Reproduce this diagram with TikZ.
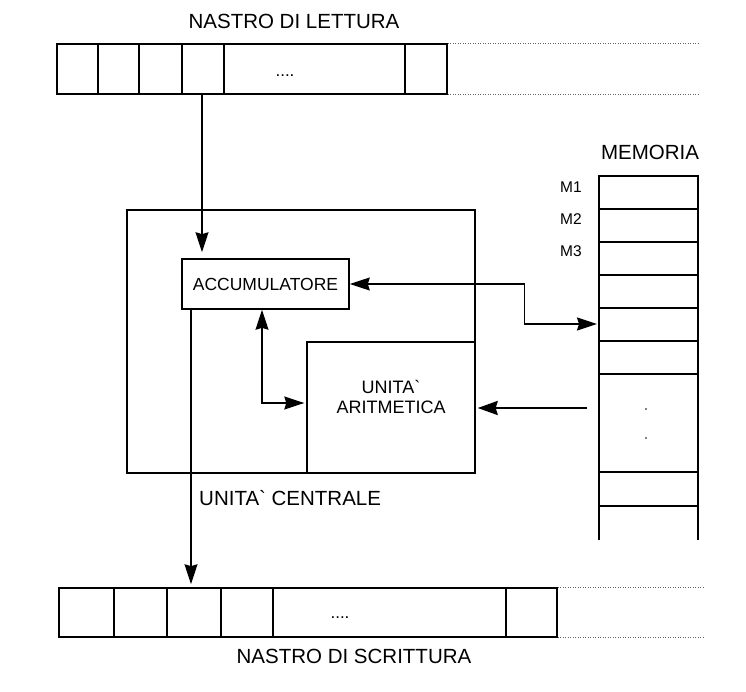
\documentclass[tikz,border=0pt]{standalone}
\usepackage{fontspec}
\setmainfont{Liberation Sans}
\usetikzlibrary{arrows.meta}
\begin{document}
\begin{tikzpicture}[x=1pt,y=-1pt,
  boxline/.style={draw,line width=1.6pt,inner sep=0pt},
  tapebox/.style={boxline,minimum height=50pt},
  conn/.style={line width=1.3pt},
  tip/.style={-{Stealth[length=20pt,width=13pt,inset=2pt]}},
  dtip/.style={{Stealth[length=20pt,width=13pt,inset=2pt]}-{Stealth[length=20pt,width=13pt,inset=2pt]}},
  btip/.style={line width=2.4pt,-{Stealth[length=20pt,width=14pt,inset=2pt]}},
  dotline/.style={dash pattern=on 0.9pt off 1.6pt,line width=0.9pt,gray!80!black},
  biglabel/.style={font=\fontsize{20.5}{24}\selectfont,inner sep=0pt},
  inlabel/.style={font=\fontsize{17.5}{20}\selectfont,inner sep=0pt},
  mlabel/.style={font=\fontsize{15.5}{18}\selectfont,inner sep=0pt},
  dotstext/.style={font=\fontsize{17}{20}\selectfont,inner sep=0pt}
]
\useasboundingbox[fill=white] (0,0) rectangle (746,692);

% reading tape
\node[tapebox,minimum width=390pt] (tapeR) at (252,69) {};
\foreach \x in {98,139,182,224,405}
  \draw[line width=1.6pt] (\x,44) -- (\x,94);
\node[dotstext] (dotsR) at (285,76) {....};
\draw[dotline] (tapeR.north east) -- ++(252,0) coordinate (rEndN);
\draw[dotline] (tapeR.south east) -- ++(252,0) coordinate (rEndS);
\node[biglabel] (lblR) at (294,21) {NASTRO DI LETTURA};

% central unit
\node[draw,line width=1.4pt,minimum width=348pt,minimum height=263pt,inner sep=0pt] (cu) at (301,341.5) {};
\node[boxline,minimum width=167pt,minimum height=50pt] (acc) at (265.5,284) {};
\node[inlabel] (acctext) at (acc) {ACCUMULATORE};
\node[draw,line width=1.4pt,minimum width=168pt,minimum height=131pt,inner sep=0pt] (alu) at (391,407.5) {};
\node[inlabel,align=center,font=\fontsize{18}{20.5}\selectfont] (alutext) at (391,397) {UNITA\textasciigrave\\ARITMETICA};
\node[biglabel,anchor=west] (lblCU) at (199,498) {UNITA\textasciigrave\ CENTRALE};

% memory
\draw[line width=1.6pt] (599,540) -- (599,176) -- (698,176) -- (698,540);
\foreach \y in {209,242,275,308,341,374,472,506}
  \draw[line width=1.6pt] (599,\y) -- (698,\y);
\coordinate (m5) at (599,324);
\coordinate (mdots) at (599,408);
\node[biglabel] (lblM) at (650,152) {MEMORIA};
\node[mlabel] (M1) at (571,187) {M1};
\node[mlabel] (M2) at (571,219) {M2};
\node[mlabel] (M3) at (571,251) {M3};
\fill (646,409) circle (0.9pt);
\fill (646,438) circle (0.9pt);

% writing tape
\node[tapebox,minimum width=498pt,minimum height=49pt] (tapeW) at (308,612.5) {};
\foreach \x in {114,167,221,273,506}
  \draw[line width=1.6pt] (\x,588) -- (\x,637);
\node[dotstext] (dotsW) at (340,618) {....};
\draw[dotline] (tapeW.north east) -- ++(146,0) coordinate (wEndN);
\draw[dotline] (tapeW.south east) -- ++(146,0) coordinate (wEndS);
\node[biglabel] (lblW) at (354,656) {NASTRO DI SCRITTURA};

% connectors
\coordinate (r4) at (202,69);
\draw[conn,tip,shorten >=6pt] (tapeR.south -| r4) -- (acc.north -| r4);
\draw[conn,dtip,shorten >=2pt] (acc.east) -- ++(175,0) |- (m5);
\coordinate (k) at (262,403);
\draw[conn,dtip,shorten >=2pt] (acc.south -| k) |- (alu.west |- k);
\draw[btip,shorten >=2pt] ([xshift=-12pt]mdots) -- (alu.east |- mdots);
\coordinate (w3) at (191,612);
\draw[conn,tip,shorten >=3pt] (acc.south -| w3) -- (tapeW.north -| w3);
\end{tikzpicture}
\end{document}
